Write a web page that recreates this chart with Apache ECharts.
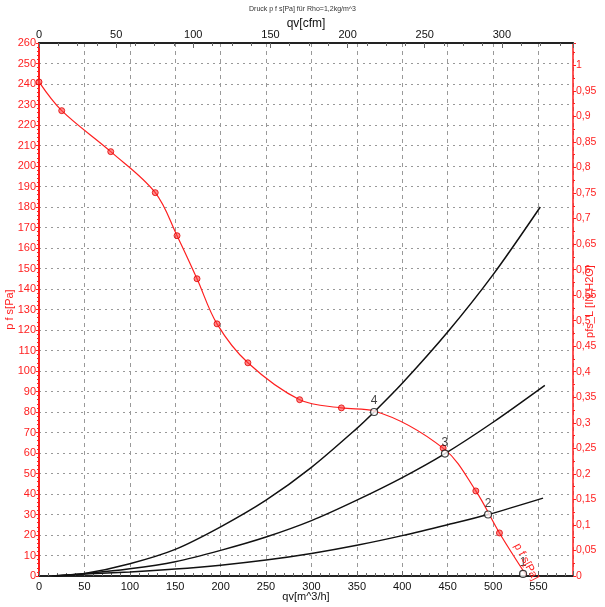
<!DOCTYPE html>
<html>
<head>
<meta charset="utf-8">
<script src="https://cdn.jsdelivr.net/npm/echarts@6/dist/echarts.min.js"></script>
<style>
  html, body { margin: 0; padding: 0; background: #fff; }
  #chart { width: 605px; height: 607px; }
</style>
</head>
<body>
<div id="chart"></div>
<script>
// Kennlinie p f s [Pa] ueber qv [m^3/h]
const fanCurve = [[0, 241], [25, 227], [79, 207], [128, 187], [152, 166], [174, 145], [196, 123],
  [230, 104], [287, 86], [333, 82], [369, 80.5], [446, 62], [481, 41.5], [507, 21], [537, 0]];
// Messpunkte auf der Kennlinie
const fanMarkers = [[0, 241], [25, 227], [79, 207], [128, 187], [152, 166], [174, 145], [196, 123],
  [230, 104], [287, 86], [333, 82], [445, 62.4], [481, 41.5], [507, 21]];
// Anlagenkennlinien
const system4 = [[18, 0], [50, 1.2], [100, 6], [150, 13], [200, 24], [250, 37], [300, 53], [350, 72],
  [369, 80], [400, 94], [450, 119], [500, 147], [552, 180]];
const system3 = [[16, 0], [50, 1.1], [100, 3.5], [150, 7], [200, 12.5], [250, 19], [300, 27], [350, 37],
  [400, 48], [447, 59.7], [500, 75], [557, 93]];
const system2 = [[14, 0], [50, 1], [100, 2], [150, 3.4], [200, 5.3], [250, 7.8], [300, 11], [350, 15],
  [400, 19.7], [450, 25], [494.5, 30], [555, 38]];
// Betriebspunkte
const opPoints = [[533, 1, '1'], [494.5, 30, '2'], [447, 59.7, '3'], [369, 80, '4']];

const qMax = 588;          // m^3/h
const cfmFactor = 1.699;   // m^3/h pro cfm
const paPerInH2O = 249.089;
const pMax = 260;

const RED = '#ff1f1f';
const FONT = 'Liberation Sans, Arial, sans-serif';

const chart = echarts.init(document.getElementById('chart'));

chart.setOption({
  animation: false,
  textStyle: { fontFamily: FONT },
  title: {
    text: 'Druck p f s[Pa] für Rho=1,2kg/m^3',
    left: 'center',
    top: 1,
    textStyle: { fontSize: 7, fontWeight: 'normal', color: '#333', fontFamily: FONT }
  },
  grid: { left: 39, right: 32, top: 43, bottom: 31, containLabel: false, outerBoundsMode: 'none' },
  xAxis: [
    {
      type: 'value', position: 'bottom', min: 0, max: qMax, interval: 50,
      name: 'qv[m^3/h]', nameLocation: 'middle', nameGap: 15, nameMoveOverlap: false,
      nameTextStyle: { color: '#111', fontSize: 11, verticalAlign: 'top' },
      axisLine: { onZero: false, lineStyle: { color: '#222', width: 2 } },
      axisTick: { inside: true, length: 5, lineStyle: { color: '#666' } },
      minorTick: { show: true, splitNumber: 5, length: 3, lineStyle: { color: '#666' } },
      axisLabel: { color: '#111', fontSize: 11, margin: 5, showMaxLabel: false },
      splitLine: { show: true, lineStyle: { color: '#999', type: [4, 4] } }
    },
    {
      type: 'value', position: 'top', min: 0, max: qMax / cfmFactor, interval: 50,
      name: 'qv[cfm]', nameLocation: 'middle', nameGap: 13, nameMoveOverlap: false,
      nameTextStyle: { color: '#111', fontSize: 12, verticalAlign: 'bottom' },
      axisLine: { onZero: false, lineStyle: { color: '#222', width: 2 } },
      axisTick: { inside: true, length: 5, lineStyle: { color: '#666' } },
      minorTick: { show: true, splitNumber: 4, length: 3, lineStyle: { color: '#666' } },
      axisLabel: { color: '#111', fontSize: 11, margin: 3, showMaxLabel: false },
      splitLine: { show: false }
    }
  ],
  yAxis: [
    {
      type: 'value', position: 'left', min: 0, max: pMax, interval: 10,
      name: 'p f s[Pa]', nameLocation: 'middle', nameGap: 29, nameRotate: 90, nameMoveOverlap: false,
      nameTextStyle: { color: RED, fontSize: 11, verticalAlign: 'middle' },
      axisLine: { onZero: false, lineStyle: { color: RED, width: 2 } },
      axisTick: { inside: false, length: 3, lineStyle: { color: RED } },
      minorTick: { show: true, splitNumber: 5, length: 2, lineStyle: { color: RED } },
      axisLabel: { color: RED, fontSize: 11, margin: 3 },
      splitLine: { show: true, lineStyle: { color: '#999', type: [2, 4] } }
    },
    {
      type: 'value', position: 'right', min: 0, max: pMax / paPerInH2O, interval: 0.05,
      name: 'pfs_L [IN H2O]', nameLocation: 'middle', nameGap: 17, nameRotate: 90, nameMoveOverlap: false,
      nameTextStyle: { color: RED, fontSize: 11, verticalAlign: 'middle', padding: [0, 0, 0, 16] },
      axisLine: { onZero: false, lineStyle: { color: RED, width: 1.5 } },
      axisTick: { inside: false, length: 3, lineStyle: { color: RED } },
      minorTick: { show: true, splitNumber: 2, length: 2, lineStyle: { color: RED } },
      axisLabel: {
        color: RED, fontSize: 10.5, margin: 3, showMaxLabel: false,
        formatter: v => String(Math.round(v * 100) / 100).replace('.', ',')
      },
      splitLine: { show: false }
    }
  ],
  series: [
    { name: 'A4', type: 'line', data: system4, smooth: 0.3, showSymbol: false,
      lineStyle: { color: '#111', width: 1.5 }, z: 2 },
    { name: 'A3', type: 'line', data: system3, smooth: 0.3, showSymbol: false,
      lineStyle: { color: '#111', width: 1.5 }, z: 2 },
    { name: 'A2', type: 'line', data: system2, smooth: 0.3, showSymbol: false,
      lineStyle: { color: '#111', width: 1.5 }, z: 2 },
    { name: 'pfs', type: 'line', data: fanCurve, smooth: 0.35, showSymbol: false,
      lineStyle: { color: RED, width: 1.2 }, z: 3 },
    { name: 'marker', type: 'scatter', data: fanMarkers, symbol: 'circle', symbolSize: 6,
      itemStyle: { color: 'rgba(255,60,60,0.75)', borderColor: '#e00000', borderWidth: 1 }, z: 4 },
    { name: 'curveLabel', type: 'scatter', data: [fanMarkers[fanMarkers.length - 1]], symbolSize: 1,
      itemStyle: { color: 'rgba(0,0,0,0)' },
      label: { show: true, formatter: 'p f s[Pa]', position: 'inside', align: 'left', verticalAlign: 'middle',
        offset: [18, -10], rotate: -62, color: RED, fontSize: 11, opacity: 1, textBorderWidth: 0 }, z: 7 },
    { name: 'op', type: 'scatter', data: opPoints, symbol: 'circle', symbolSize: 7,
      itemStyle: { color: '#fff', borderColor: '#111', borderWidth: 1.2 },
      label: { show: true, position: 'top', distance: 1, formatter: p => p.data[2],
        color: '#111', fontSize: 12 }, z: 6 }
  ]
});
</script>
</body>
</html>
